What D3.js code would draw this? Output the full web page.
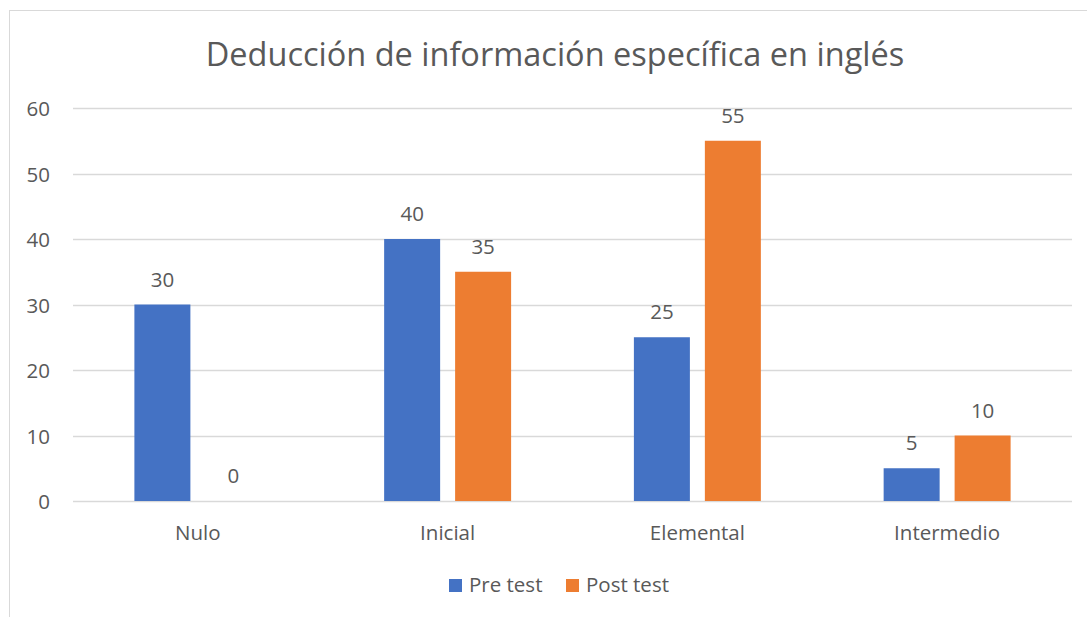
<!DOCTYPE html>
<meta charset="utf-8">
<script src="https://d3js.org/d3.v7.min.js"></script>
<style>
  body { margin: 0; background: #fff; }
  text { font-family: "Open Sans", "Noto Sans", sans-serif; fill: #595959; }
</style>
<div id="chart"></div>
<script>
  // chart data
  const categories = ["Nulo", "Inicial", "Elemental", "Intermedio"];
  const seriesNames = ["Pre test", "Post test"];
  const preTest = [30, 40, 25, 5];
  const postTest = [0, 35, 55, 10];
  const yTicks = [0, 10, 20, 30, 40, 50, 60];

  const width = 1087, height = 617;
  const margin = { top: 108, right: 15, bottom: 116, left: 73 };
  const colors = ["#4472c4", "#ed7d31"];
  const labelSize = "20.5px";

  const svg = d3.select("#chart")
    .append("svg")
    .attr("width", width)
    .attr("height", height);

  // outer chart border
  svg.append("rect")
    .attr("x", 9.5).attr("y", 10.5)
    .attr("width", width + 20).attr("height", height + 20)
    .attr("fill", "none")
    .attr("stroke", "#d9d9d9");

  svg.append("text")
    .attr("x", 555).attr("y", 66)
    .attr("text-anchor", "middle")
    .style("font-size", "32.5px")
    .text("Deducción de información específica en inglés");

  const x0 = d3.scaleBand()
    .domain(categories)
    .range([margin.left, width - margin.right]);

  const x1 = d3.scaleBand()
    .domain(seriesNames)
    .range([0, x0.bandwidth()])
    .paddingInner(0.211)
    .paddingOuter(0.865);

  const y = d3.scaleLinear()
    .domain([0, 60])
    .range([height - margin.bottom, margin.top]);

  // gridlines
  svg.append("g")
    .selectAll("line")
    .data(yTicks)
    .join("line")
    .attr("x1", margin.left)
    .attr("x2", width - margin.right)
    .attr("y1", d => Math.round(y(d)) + 0.5)
    .attr("y2", d => Math.round(y(d)) + 0.5)
    .attr("stroke", "#d9d9d9")
    .attr("stroke-width", 1.5);

  // y axis labels
  svg.append("g")
    .selectAll("text")
    .data(yTicks)
    .join("text")
    .attr("x", 50)
    .attr("y", d => y(d) + 8)
    .attr("text-anchor", "end")
    .style("font-size", labelSize)
    .text(d => d);

  // x axis labels
  svg.append("g")
    .selectAll("text")
    .data(categories)
    .join("text")
    .attr("x", d => x0(d) + x0.bandwidth() / 2)
    .attr("y", 540)
    .attr("text-anchor", "middle")
    .style("font-size", labelSize)
    .text(d => d);

  const rows = categories.map((c, i) => ({ cat: c, values: [preTest[i], postTest[i]] }));

  const groups = svg.append("g")
    .selectAll("g")
    .data(rows)
    .join("g")
    .attr("transform", d => `translate(${x0(d.cat)},0)`);

  groups.selectAll("rect")
    .data(d => d.values.map((v, j) => ({ key: seriesNames[j], value: v, j: j })))
    .join("rect")
    .attr("x", d => x1(d.key))
    .attr("y", d => y(d.value))
    .attr("width", x1.bandwidth())
    .attr("height", d => y(0) - y(d.value))
    .attr("fill", d => colors[d.j]);

  groups.selectAll("text")
    .data(d => d.values.map((v, j) => ({ key: seriesNames[j], value: v })))
    .join("text")
    .attr("x", d => x1(d.key) + x1.bandwidth() / 2)
    .attr("y", d => y(d.value) - 18)
    .attr("text-anchor", "middle")
    .style("font-size", labelSize)
    .text(d => d.value);

  // legend
  const legendX = [449, 566];
  const legend = svg.append("g")
    .selectAll("g")
    .data(seriesNames)
    .join("g")
    .attr("transform", (d, i) => `translate(${legendX[i]},579)`);

  legend.append("rect")
    .attr("width", 13).attr("height", 13)
    .attr("fill", (d, i) => colors[i]);

  legend.append("text")
    .attr("x", 20).attr("y", 13)
    .style("font-size", labelSize)
    .text(d => d);
</script>
